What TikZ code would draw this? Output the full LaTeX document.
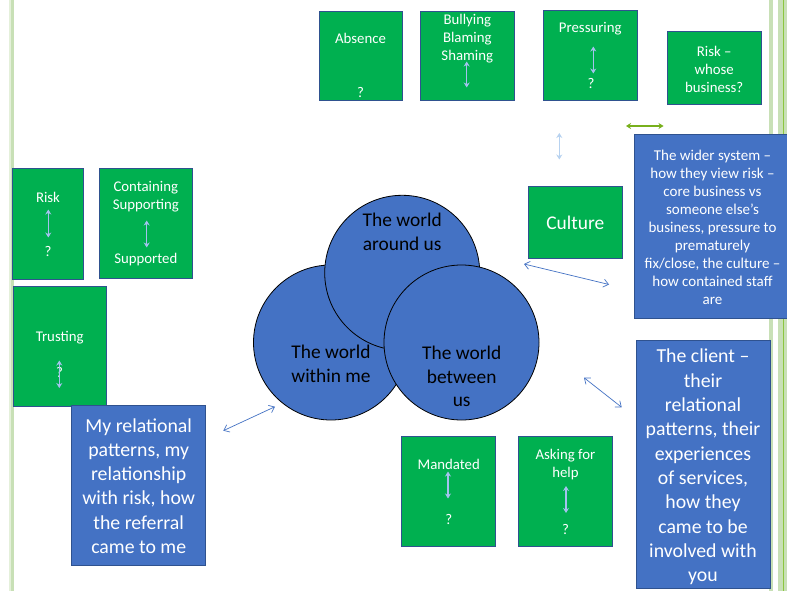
\documentclass[tikz,border=0pt]{standalone}
\usepackage{fontspec}
\setmainfont{Carlito}
\usetikzlibrary{arrows.meta}
\definecolor{pgreen}{HTML}{00B050}
\definecolor{pblue}{HTML}{4472C4}
\definecolor{pedge}{HTML}{2F528F}
\definecolor{inarr}{HTML}{A4C2EE}
\definecolor{paleblue}{HTML}{B7D2F0}
\definecolor{lime}{HTML}{78B01C}
\definecolor{bandlight}{HTML}{C8E0B6}
\definecolor{bandpale}{HTML}{E4F0DA}
\definecolor{banddark}{HTML}{8CC63F}
\tikzset{
  gbox/.style={draw=pedge, line width=0.7pt, fill=pgreen, rectangle, inner sep=0pt},
  bbox/.style={draw=pedge, line width=0.7pt, fill=pblue, rectangle, inner sep=0pt},
  circ/.style={draw=black, line width=0.8pt, fill=pblue, circle, inner sep=0pt, minimum size=155},
  small/.style={text=white, inner sep=0pt, align=center, font=\fontsize{14.8}{18}\selectfont},
  smallw/.style={text=white, inner sep=0pt, align=center, font=\fontsize{15}{18}\selectfont},
  big/.style={text=white, inner sep=0pt, align=center, font=\fontsize{19.8}{24.3}\selectfont},
  ctext/.style={text=black, inner sep=0pt, align=center, font=\fontsize{19.4}{23.8}\selectfont},
  inarrow/.style={draw=inarr, line width=1.3pt, {Stealth[length=5pt,width=6pt]}-{Stealth[length=5pt,width=6pt]}},
  link/.style={draw=pblue, line width=0.7pt, {Straight Barb[length=5pt,width=8pt]}-{Straight Barb[length=5pt,width=8pt]}},
}
\begin{document}
\begin{tikzpicture}[x=1pt,y=-1pt]
\useasboundingbox (0,0) rectangle (787,591);
\fill[white] (0,0) rectangle (787,591);
% page edge bands
\fill[bandpale] (9,0) rectangle (10.5,591);
\fill[bandlight] (10.5,0) rectangle (14,591);
\fill[bandlight] (769,0) rectangle (772.7,591);
\fill[bandlight] (777.7,0) rectangle (787,591);
\fill[banddark] (782.8,0) rectangle (784,591);

% top boxes
\node[gbox, minimum width=83, minimum height=89] (absence) at (360.5,55.5) {};
\node[small] (absT) at (360.5,38) {Absence};
\node[small] (absQ) at (360.5,92) {?};

\node[gbox, minimum width=93.5, minimum height=89] (bully) at (467.3,55.5) {};
\node[small] (bullyT) at (467.3,38.5) {Bullying\\Blaming\\Shaming};
\coordinate (bullyA1) at (466.7,61.5);
\coordinate (bullyA2) at (466.7,87.5);
\draw[inarrow] (bullyA1) -- (bullyA2);

\node[gbox, minimum width=94, minimum height=90] (press) at (590.3,55.5) {};
\node[small] (pressT) at (590.3,28.7) {Pressuring};
\coordinate (pressA1) at (593.3,46.5);
\coordinate (pressA2) at (593.3,73.5);
\draw[inarrow] (pressA1) -- (pressA2);
\node[small] (pressQ) at (591,83.5) {?};

\node[gbox, minimum width=93.7, minimum height=72.3] (riskwb) at (714.2,67.8) {};
\node[small] (riskwbT) at (714.2,69.5) {Risk –\\whose\\business?};

% small arrows near culture
\coordinate (pb1) at (559.3,133);
\coordinate (pb2) at (559.3,159.5);
\draw[draw=paleblue, line width=1.5pt, {Stealth[length=5pt,width=6pt]}-{Stealth[length=5pt,width=6pt]}] (pb1) -- (pb2);
\coordinate (ga1) at (626,126);
\coordinate (ga2) at (663.5,126);
\draw[draw=lime, line width=1.5pt, {Stealth[length=5pt,width=6pt]}-{Stealth[length=5pt,width=6pt]}] (ga1) -- (ga2);

% wider system
\node[bbox, minimum width=155, minimum height=184] (wider) at (711.8,226.3) {};
\node[smallw] (widerT) at (712.5,227.5) {The wider system –\\how they view risk –\\core business vs\\someone else’s\\business, pressure to\\prematurely\\fix/close, the culture –\\how contained staff\\are};

% culture
\node[gbox, minimum width=94, minimum height=71.6, font=\fontsize{19.4}{23}\selectfont, text=white] (culture) at (575.3,222.5) {Culture};

% left boxes
\node[gbox, minimum width=71.4, minimum height=111.3] (riskL) at (48,223.7) {};
\node[small] (riskLT) at (48,197.3) {Risk};
\coordinate (riskLA1) at (48.3,209.5);
\coordinate (riskLA2) at (48.3,237.5);
\draw[inarrow] (riskLA1) -- (riskLA2);
\node[small] (riskLQ) at (48,251.7) {?};

\node[gbox, minimum width=93.7, minimum height=110.3] (contain) at (145.8,223.2) {};
\node[small] (containT) at (145.8,196.5) {Containing\\Supporting};
\coordinate (containA1) at (146.7,220.5);
\coordinate (containA2) at (146.7,247.5);
\draw[inarrow] (containA1) -- (containA2);
\node[small] (containS) at (145.8,260) {Supported};

\node[gbox, minimum width=92.7, minimum height=120] (trust) at (59.7,346) {};
\node[small] (trustT) at (59.7,337.3) {Trusting};
\node[small] (trustQ) at (59.5,372) {?};
\coordinate (trustA1) at (59.3,360.5);
\coordinate (trustA2) at (59.3,388);
\draw[inarrow] (trustA1) -- (trustA2);

% my relational patterns
\node[bbox, minimum width=134, minimum height=160] (mine) at (138.7,485) {};
\node[big] (mineT) at (138.7,486) {My relational\\patterns, my\\relationship\\with risk, how\\the referral\\came to me};

% circles
\node[circ] (within) at (331,342.5) {};
\node[circ] (around) at (402.2,272.8) {};
\node[circ] (between) at (461.5,342.5) {};
\node[ctext] (aroundT) at (402.2,231.5) {The world\\around us};
\node[ctext] (withinT) at (331,364) {The world\\within me};
\node[ctext] (betweenT) at (461.7,376.5) {The world\\between\\us};

% client
\node[bbox, minimum width=134, minimum height=248.3] (client) at (703,464.2) {};
\node[big] (clientT) at (703,467) {The client –\\their\\relational\\patterns, their\\experiences\\of services,\\how they\\came to be\\involved with\\you};

% bottom boxes
\node[gbox, minimum width=94, minimum height=110.7] (mand) at (448.7,491.3) {};
\node[small] (mandT) at (448.7,464.3) {Mandated};
\coordinate (mandA1) at (448,471.5);
\coordinate (mandA2) at (448,498.5);
\draw[inarrow] (mandA1) -- (mandA2);
\node[small] (mandQ) at (448.7,519.3) {?};

\node[gbox, minimum width=93.6, minimum height=110.7] (ask) at (565.5,491.3) {};
\node[small] (askT) at (565.5,465) {Asking for\\help};
\coordinate (askA1) at (566,486);
\coordinate (askA2) at (566,513);
\draw[inarrow] (askA1) -- (askA2);
\node[small] (askQ) at (565.5,529) {?};

% link arrows
\coordinate (l1a) at (524,264);
\coordinate (l1b) at (609,284.5);
\draw[link] (l1a) -- (l1b);
\coordinate (l2a) at (223.3,430.7);
\coordinate (l2b) at (275,406.7);
\draw[link] (l2a) -- (l2b);
\coordinate (l3a) at (584,377.7);
\coordinate (l3b) at (621.7,407.3);
\draw[link] (l3a) -- (l3b);
\end{tikzpicture}
\end{document}
